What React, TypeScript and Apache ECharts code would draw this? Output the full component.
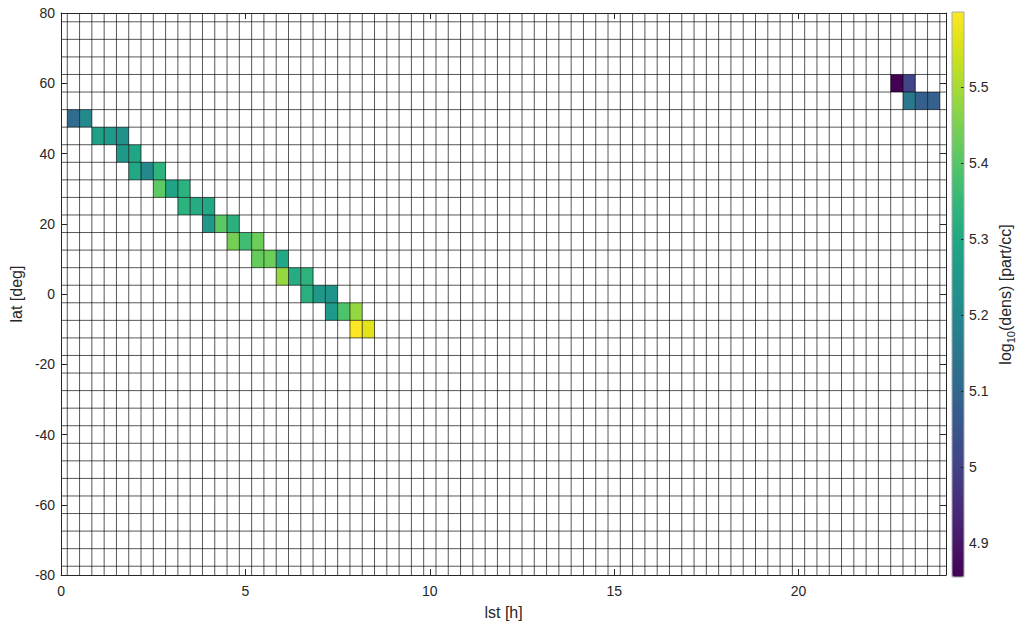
import React, { useEffect, useRef } from "react";
import * as echarts from "echarts";

// ---- data ----
const lstRange = [0, 24];
const latRange = [-80, 80];
const lstTickStep = 5;
const latTickStep = 20;
const lstBin = 1 / 3; // hours
const latBin = 5; // degrees

const cellLst = [
  0.333, 0.667, 1.0, 1.333, 1.667, 1.667, 2.0, 2.0, 2.333, 2.667, 2.667, 3.0, 3.333, 3.333,
  3.667, 4.0, 4.0, 4.333, 4.667, 4.667, 5.0, 5.333, 5.333, 5.667, 6.0, 6.0, 6.333, 6.667,
  6.667, 7.0, 7.333, 7.333, 7.667, 8.0, 8.0, 8.333, 22.667, 23.0, 23.0, 23.333, 23.667,
];
const cellLat = [
  50, 50, 45, 45, 45, 40, 40, 35, 35, 35, 30, 30, 30, 25, 25, 25, 20, 20, 20, 15, 15, 15, 10,
  10, 10, 5, 5, 5, 0, 0, 0, -5, -5, -5, -10, -10, 60, 60, 55, 55, 55,
];
const cellDens = [
  5.115, 5.205, 5.279, 5.257, 5.227, 5.249, 5.294, 5.301, 5.205, 5.335, 5.413, 5.287, 5.331,
  5.331, 5.313, 5.301, 5.249, 5.409, 5.327, 5.443, 5.368, 5.432, 5.424, 5.432, 5.301, 5.48,
  5.313, 5.335, 5.324, 5.249, 5.234, 5.257, 5.39, 5.48, 5.599, 5.565, 4.855, 5.004, 5.153,
  5.078, 5.085,
];

const viridis = [
  "#440154", "#471365", "#482475", "#463480", "#414487", "#3b528b", "#355f8d", "#2f6c8e",
  "#2a788e", "#25848e", "#21918c", "#1e9c89", "#22a884", "#2fb47c", "#44bf70", "#5ec962",
  "#7ad151", "#9bd93c", "#bddf26", "#dfe318", "#fde725",
];

const FONT = "'Liberation Sans', Arial, Helvetica, sans-serif";
const AX = "#262626";
const TICK_FS = 14;
const NAME_FS = 16;

export default function App() {
  const ref = useRef<HTMLDivElement>(null);
  useEffect(() => {
    if (!ref.current) return;
    const chart = echarts.init(ref.current, undefined, { renderer: "svg" });

    const cells = cellLst.map((x, i) => [x, cellLat[i], cellDens[i]]);
    const dMin = Math.min(...cellDens);
    const dMax = Math.max(...cellDens);

    // bin edges of the pcolor grid
    const lstEdges: number[][] = [];
    for (let e = lstRange[0] + lstBin / 2; e < lstRange[1]; e += lstBin) lstEdges.push([e, 0]);
    const latEdges: number[][] = [];
    for (let e = latRange[0] + latBin / 2; e < latRange[1]; e += latBin) latEdges.push([0, e]);

    const lineStyle = { stroke: "rgba(0,0,0,0.66)", lineWidth: 1 };

    const axisCommon = {
      axisLine: { show: true, onZero: false, lineStyle: { color: AX, width: 1 } },
      axisTick: { show: true, inside: true, length: 6, lineStyle: { color: AX } },
      splitLine: { show: false },
      z: 5,
    };

    chart.setOption({
      animation: false,
      textStyle: { fontFamily: FONT },
      grid: [
        { left: 58, top: 13, width: 888, height: 562, show: false },
        { left: 952, top: 12, width: 12, height: 565, show: false },
      ],
      xAxis: [
        {
          ...axisCommon,
          type: "value",
          gridIndex: 0,
          min: lstRange[0],
          max: lstRange[1],
          interval: lstTickStep,
          position: "bottom",
          name: "lst [h]",
          nameLocation: "middle",
          nameGap: 29,
          nameTextStyle: { fontSize: NAME_FS, color: AX, fontFamily: FONT },
          axisLabel: { fontSize: TICK_FS, color: AX, margin: 9, showMaxLabel: false, fontFamily: FONT },
        },
        {
          ...axisCommon,
          type: "value",
          gridIndex: 0,
          min: lstRange[0],
          max: lstRange[1],
          interval: lstTickStep,
          position: "top",
          axisLabel: { show: false },
        },
        { type: "value", gridIndex: 1, show: false, min: 0, max: 1 },
      ],
      yAxis: [
        {
          ...axisCommon,
          type: "value",
          gridIndex: 0,
          min: latRange[0],
          max: latRange[1],
          interval: latTickStep,
          position: "left",
          name: "lat [deg]",
          nameLocation: "middle",
          nameGap: 33,
          nameTextStyle: { fontSize: NAME_FS, color: AX, fontFamily: FONT },
          axisLabel: { fontSize: TICK_FS, color: AX, margin: 6, fontFamily: FONT },
        },
        {
          ...axisCommon,
          type: "value",
          gridIndex: 0,
          min: latRange[0],
          max: latRange[1],
          interval: latTickStep,
          position: "right",
          axisLabel: { show: false },
        },
        {
          type: "value",
          gridIndex: 1,
          min: dMin,
          max: dMax,
          splitNumber: 7,
          position: "right",
          z: 10,
          axisLine: { show: false, onZero: false },
          axisTick: { show: true, inside: true, length: 3, lineStyle: { color: AX } },
          splitLine: { show: false },
          axisLabel: {
            fontSize: TICK_FS,
            color: AX,
            margin: 5,
            showMinLabel: false,
            showMaxLabel: false,
            fontFamily: FONT,
          },
          name: "{a|log}{b|10}{a|(dens) [part/cc]}",
          nameLocation: "middle",
          nameGap: 30,
          nameTextStyle: {
            color: AX,
            fontFamily: FONT,
            rich: {
              a: { fontSize: NAME_FS, color: AX, fontFamily: FONT, lineHeight: 22, verticalAlign: "middle" },
              b: { fontSize: 11, color: AX, fontFamily: FONT, lineHeight: 11, verticalAlign: "bottom", padding: [10, 0, 0, 0] },
            },
          },
        },
      ],
      visualMap: {
        type: "continuous",
        seriesIndex: 0,
        dimension: 2,
        min: dMin,
        max: dMax,
        calculable: false,
        hoverLink: false,
        left: 952,
        top: 12,
        padding: 0,
        itemWidth: 12,
        itemHeight: 565,
        inRange: { color: viridis },
        textStyle: { color: "transparent" },
      },
      graphic: [
        {
          type: "rect",
          shape: { x: 952, y: 12, width: 12, height: 565 },
          style: { fill: "none", stroke: "#a8a8a8", lineWidth: 1 },
          z: 100,
          silent: true,
        },
      ],
      series: [
        {
          type: "custom",
          xAxisIndex: 0,
          yAxisIndex: 0,
          silent: true,
          encode: { x: 0, y: 1 },
          data: cells,
          z: 2,
          renderItem: (params: any, api: any) => {
            const x = api.value(0);
            const y = api.value(1);
            const p0 = api.coord([x - lstBin / 2, y + latBin / 2]);
            const p1 = api.coord([x + lstBin / 2, y - latBin / 2]);
            return {
              type: "rect",
              shape: { x: p0[0], y: p0[1], width: p1[0] - p0[0], height: p1[1] - p0[1] },
              style: { fill: api.visual("color") },
            };
          },
        },
        {
          type: "custom",
          xAxisIndex: 0,
          yAxisIndex: 0,
          silent: true,
          encode: { x: 0, y: 1 },
          data: lstEdges,
          z: 3,
          renderItem: (params: any, api: any) => {
            const x = api.value(0);
            const a = api.coord([x, latRange[0]]);
            const b = api.coord([x, latRange[1]]);
            return { type: "line", shape: { x1: a[0], y1: a[1], x2: b[0], y2: b[1] }, style: lineStyle };
          },
        },
        {
          type: "custom",
          xAxisIndex: 0,
          yAxisIndex: 0,
          silent: true,
          encode: { x: 0, y: 1 },
          data: latEdges,
          z: 3,
          renderItem: (params: any, api: any) => {
            const y = api.value(1);
            const a = api.coord([lstRange[0], y]);
            const b = api.coord([lstRange[1], y]);
            return { type: "line", shape: { x1: a[0], y1: a[1], x2: b[0], y2: b[1] }, style: lineStyle };
          },
        },
      ],
    });
    return () => chart.dispose();
  }, []);

  return (
    <div
      ref={ref}
      style={{ position: "absolute", left: 0, top: 0, width: 1023, height: 631, background: "#fff" }}
    />
  );
}
